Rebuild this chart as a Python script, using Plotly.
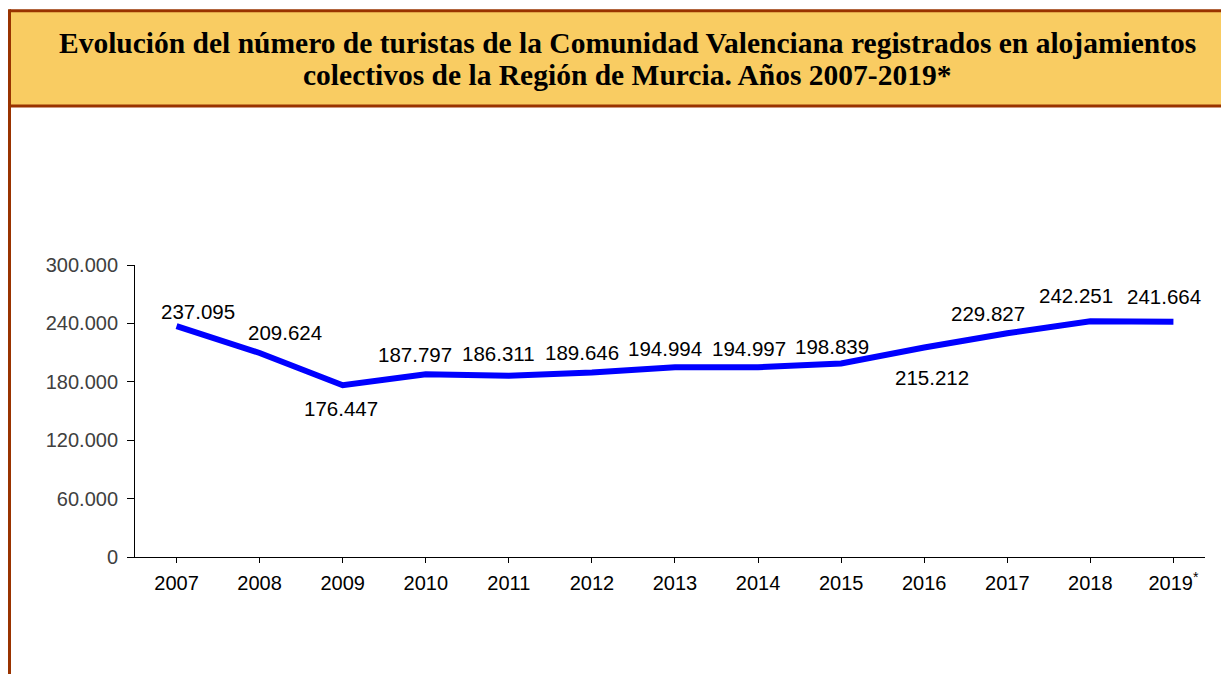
import plotly.graph_objects as go

# ---- data ----
years = ["2007", "2008", "2009", "2010", "2011", "2012", "2013",
         "2014", "2015", "2016", "2017", "2018", "2019*"]
year_labels = ["2007", "2008", "2009", "2010", "2011", "2012", "2013",
               "2014", "2015", "2016", "2017", "2018", "2019<sup>*</sup>"]
turistas = [237095, 209624, 176447, 187797, 186311, 189646, 194994,
            194997, 198839, 215212, 229827, 242251, 241664]
y_ticks = [0, 60000, 120000, 180000, 240000, 300000]

title_lines = ["<b>Evolución del número de turistas de la Comunidad Valenciana registrados en alojamientos</b>",
               "<b>colectivos de la Región de Murcia. Años 2007-2019*</b>"]

# label offsets (pixels) – styling only
label_dx = [21, 25, -2, -11, -10, -10, -10, -9, -9, 8, -19, -14, -9]
label_dy = [15, 20, -23, 20, 22, 20, 19, 19, 17, -30, 20, 26, 25]

W, H = 1229, 674
OFF = 8  # page body margin
def px(x):
    return (x - OFF) / W
def py(y):
    return 1 - (y - OFF) / H

fig = go.Figure()
fig.add_trace(go.Scatter(
    x=list(range(len(years))), y=turistas, mode="lines",
    line=dict(color="#0000FF", width=6), hoverinfo="skip", showlegend=False))

for i, v in enumerate(turistas):
    fig.add_annotation(
        x=i, y=v, xref="x", yref="y", text=f"{v:,}".replace(",", "."),
        showarrow=False, xshift=label_dx[i], yshift=label_dy[i],
        xanchor="center", yanchor="middle",
        font=dict(family="Liberation Sans, Arial", size=20.5, color="#000000"))

# title box (fill + separate borders; open on the right)
BORDER = "#993300"
fig.add_shape(type="rect", xref="paper", yref="paper",
              x0=px(9.5), x1=1.0, y0=py(106), y1=py(10.7),
              line=dict(width=0), fillcolor="#F9CC62", layer="below")
for (xa, ya, xb, yb) in [(9.5, 10.7, 1300, 10.7), (9.5, 106, 1300, 106), (9.5, 9.2, 9.5, 720)]:
    fig.add_shape(type="line", xref="paper", yref="paper",
                  x0=px(xa), x1=min(px(xb), 1.0), y0=py(ya), y1=max(py(yb), 0.0),
                  line=dict(color=BORDER, width=3))
for k, (line_txt, yc) in enumerate(zip(title_lines, [43, 75])):
    fig.add_annotation(x=px(627), y=py(yc), xref="paper", yref="paper", text=line_txt,
                       showarrow=False, xanchor="center", yanchor="middle",
                       font=dict(family="Liberation Serif, Times New Roman", size=29.5, color="#000000"))

fig.update_layout(
    width=W, height=H, autosize=False, margin=dict(l=0, r=0, t=0, b=0, pad=0),
    paper_bgcolor="white", plot_bgcolor="white", separators=",.",
    xaxis=dict(domain=[px(135), px(1205)], range=[-0.5, 12.38], automargin=False,
               tickmode="array", tickvals=list(range(len(years))), ticktext=year_labels,
               showgrid=False, zeroline=False, showline=True, linecolor="#000000", linewidth=1,
               ticks="outside", tickson="boundaries", ticklen=5, tickcolor="#000000",
               ticklabelstandoff=3,
               tickfont=dict(family="Liberation Sans, Arial", size=20, color="#000000")),
    yaxis=dict(domain=[py(557), py(265)], range=[0, 300000], automargin=False,
               tickmode="array", tickvals=y_ticks, tickformat=",d",
               showgrid=False, zeroline=False, showline=True, linecolor="#000000", linewidth=1,
               ticks="outside", ticklen=7, tickcolor="#000000", ticklabelstandoff=5,
               tickfont=dict(family="Liberation Sans, Arial", size=20, color="#404040")),
)

fig.write_html("out.html")
